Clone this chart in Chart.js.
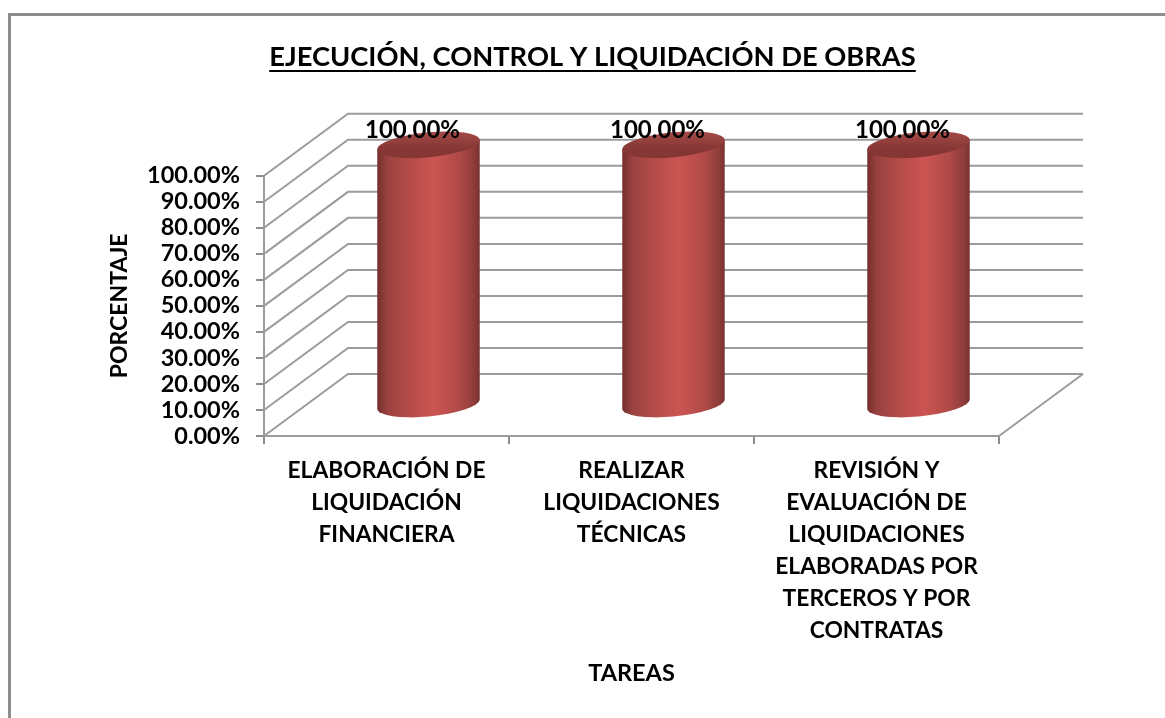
<!DOCTYPE html>
<html>
<head>
<meta charset="utf-8">
<script src="https://cdn.jsdelivr.net/npm/chart.js@4"></script>
<style>
    html, body { margin: 0; padding: 0; background: #fff; }
    #wrap { width: 1165px; height: 718px; }
</style>
</head>
<body>
<div id="wrap"><canvas id="chart" width="1165" height="718"></canvas></div>
<script>
const titleText = 'EJECUCIÓN, CONTROL Y LIQUIDACIÓN DE OBRAS';
const xTitle = 'TAREAS';
const yTitle = 'PORCENTAJE';
const categories = [
    ['ELABORACIÓN DE', 'LIQUIDACIÓN', 'FINANCIERA'],
    ['REALIZAR', 'LIQUIDACIONES', 'TÉCNICAS'],
    ['REVISIÓN Y', 'EVALUACIÓN DE', 'LIQUIDACIONES', 'ELABORADAS POR', 'TERCEROS Y POR', 'CONTRATAS']
];
const values = [100, 100, 100];

const FONT = 'Lato, Carlito, "Open Sans", sans-serif';
const LINE = '#9c9c9c';
const DEPTH_X = 84, DEPTH_Y = -62;

// 3D walls, cylinders and labels are not in Chart.js, drawn here from its scales
const depthPlugin = {
    id: 'depth',
    beforeDraw(chart) {
        const c = chart.ctx;
        c.save();
        c.fillStyle = '#fff';
        c.fillRect(0, 0, chart.width, chart.height);
        c.strokeStyle = '#8c8c8c';
        c.lineWidth = 3;
        c.beginPath();
        c.moveTo(9.5, 718);
        c.lineTo(9.5, 14.5);
        c.lineTo(1165, 14.5);
        c.stroke();
        c.restore();
    },
    afterLayout(chart) {
        chart.titleBlock.right = 2 * 592.5 - chart.titleBlock.left;
    },
    beforeDatasetsDraw(chart) {
        const c = chart.ctx, y = chart.scales.y, x = chart.scales.x;
        c.save();
        c.strokeStyle = LINE;
        c.lineWidth = 2;
        y.ticks.forEach(t => {
            const py = y.getPixelForValue(t.value);
            c.beginPath();
            c.moveTo(x.left, py);
            c.lineTo(x.left + DEPTH_X, py + DEPTH_Y);
            c.lineTo(x.right + DEPTH_X, py + DEPTH_Y);
            c.stroke();
        });
        const py0 = y.getPixelForValue(0);
        c.beginPath();
        c.moveTo(x.right, py0);
        c.lineTo(x.right + DEPTH_X, py0 + DEPTH_Y);
        c.stroke();
        c.restore();
    },
    afterDatasetsDraw(chart) {
        const c = chart.ctx;
        chart.getDatasetMeta(0).data.forEach((bar, i) => {
            const cx = bar.x + DEPTH_X / 2;
            const topY = bar.y + DEPTH_Y / 2;
            const botY = bar.base + DEPTH_Y / 2;
            drawCylinder(c, cx, topY, botY, bar.width / 2);
            c.save();
            c.font = 'bold 24px ' + FONT;
            c.fillStyle = '#000';
            c.textAlign = 'center';
            c.textBaseline = 'middle';
            c.fillText(values[i].toFixed(2) + '%', bar.x + 26, bar.y - 45);
            c.restore();
        });
    },
    afterDraw(chart) {
        // title underline
        const c = chart.ctx;
        c.save();
        c.font = 'bold 27.3px ' + FONT;
        const w = c.measureText(titleText).width;
        c.strokeStyle = '#000';
        c.lineWidth = 2;
        c.beginPath();
        c.moveTo(592.5 - w / 2, 71);
        c.lineTo(592.5 + w / 2, 71);
        c.stroke();
        c.restore();
    }
};

function drawCylinder(c, cx, topY, botY, a) {
    const b = 12.5, rot = -5.5 * Math.PI / 180;
    // angle of the ellipse where its edge is vertical
    const t = Math.atan(-(b / a) * Math.tan(rot));
    const ex = a * Math.cos(t) * Math.cos(rot) - b * Math.sin(t) * Math.sin(rot);
    const ey = a * Math.cos(t) * Math.sin(rot) + b * Math.sin(t) * Math.cos(rot);
    const grad = c.createLinearGradient(cx - ex, 0, cx + ex, 0);
    grad.addColorStop(0, '#742e2c');
    grad.addColorStop(0.1, '#9a4240');
    grad.addColorStop(0.32, '#b54c49');
    grad.addColorStop(0.55, '#cc5552');
    grad.addColorStop(0.8, '#b04a47');
    grad.addColorStop(0.94, '#8f3d3b');
    grad.addColorStop(1, '#7a3230');
    c.save();
    c.fillStyle = grad;
    c.beginPath();
    c.moveTo(cx + ex, topY + ey);
    c.lineTo(cx + ex, botY + ey);
    c.ellipse(cx, botY, a, b, rot, t, t + Math.PI);
    c.lineTo(cx - ex, topY - ey);
    c.closePath();
    c.fill();
    const topGrad = c.createLinearGradient(cx, topY - b, cx, topY + b);
    topGrad.addColorStop(0, '#a34a47');
    topGrad.addColorStop(0.6, '#883836');
    topGrad.addColorStop(1, '#843634');
    c.fillStyle = topGrad;
    c.beginPath();
    c.ellipse(cx, topY, a, b, rot, 0, Math.PI * 2);
    c.fill();
    c.restore();
}

new Chart(document.getElementById('chart'), {
    type: 'bar',
    data: {
        labels: categories,
        datasets: [{
            label: yTitle,
            data: values,
            backgroundColor: 'transparent',
            borderWidth: 0,
            categoryPercentage: 1,
            barPercentage: 0.42
        }]
    },
    plugins: [depthPlugin],
    options: {
        responsive: false,
        animation: false,
        layout: { padding: { left: 106, right: 166, top: 0, bottom: 30 } },
        plugins: {
            legend: { display: false },
            tooltip: { enabled: false },
            title: {
                display: true,
                text: titleText,
                color: '#000',
                font: { family: FONT, size: 27.3, weight: 'bold' },
                padding: { top: 41, bottom: 102 }
            }
        },
        scales: {
            x: {
                grid: { drawOnChartArea: false, color: LINE, tickColor: '#8c8c8c', tickLength: 8, lineWidth: 2 },
                border: { color: LINE, width: 2 },
                ticks: {
                    color: '#000',
                    maxRotation: 0,
                    autoSkip: false,
                    padding: 11,
                    font: { family: FONT, size: 22.8, weight: 'bold', lineHeight: 1.4 }
                },
                title: {
                    display: true,
                    text: xTitle,
                    color: '#000',
                    font: { family: FONT, size: 23.5, weight: 'bold' },
                    padding: 0
                },
                afterFit(s) { s.height = 252; }
            },
            y: {
                min: 0,
                max: 100,
                grid: { drawOnChartArea: false, color: LINE, tickColor: '#8c8c8c', tickLength: 8, lineWidth: 2 },
                border: { color: LINE, width: 2 },
                ticks: {
                    stepSize: 10,
                    color: '#000',
                    padding: 16,
                    autoSkip: false,
                    font: { family: FONT, size: 23.5, weight: 'bold' },
                    callback: v => v.toFixed(2) + '%'
                },
                title: {
                    display: true,
                    text: yTitle,
                    color: '#000',
                    font: { family: FONT, size: 23, weight: 'bold' },
                    padding: 0
                },
                afterFit(s) { s.width = 158; }
            }
        }
    }
});
</script>
</body>
</html>
